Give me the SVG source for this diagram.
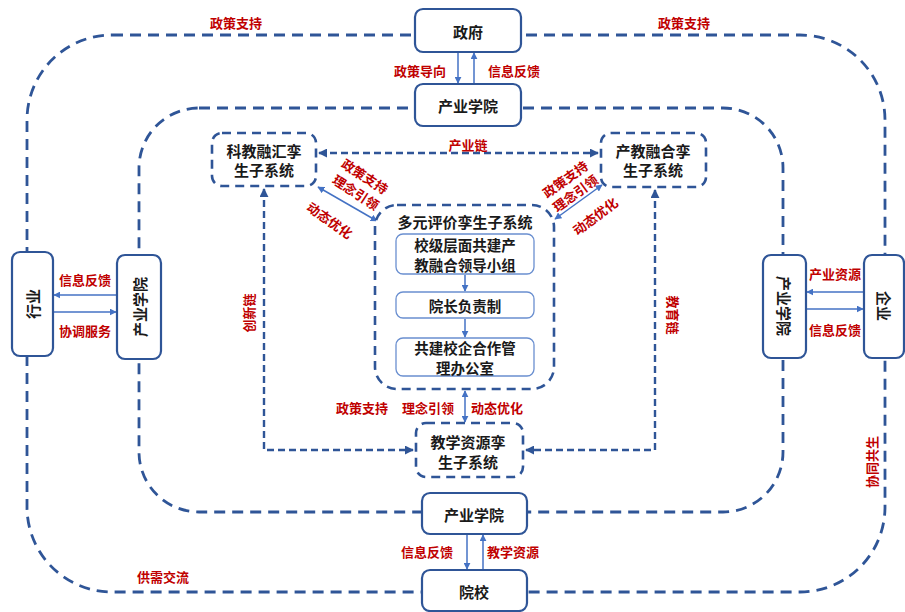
<svg xmlns="http://www.w3.org/2000/svg" width="905" height="612" viewBox="0 0 905 612">
<defs>
<marker id="ah" viewBox="0 0 10 10" refX="9" refY="5" markerWidth="9" markerHeight="9" markerUnits="userSpaceOnUse" orient="auto-start-reverse"><path d="M0,0 L10,5 L0,10 z" fill="#2F5597"/></marker>
<marker id="as" viewBox="0 0 10 10" refX="9" refY="5" markerWidth="7" markerHeight="7" markerUnits="userSpaceOnUse" orient="auto-start-reverse"><path d="M0,0 L10,5 L0,10 z" fill="#4472C4"/></marker>
<style>
.loop{fill:none;stroke:#2F5597;stroke-width:2.8;stroke-dasharray:11 7}
.chain{fill:none;stroke:#2F5597;stroke-width:2.4;stroke-dasharray:7 4}
.thin{fill:none;stroke:#4472C4;stroke-width:1.5}
.box{fill:#fff;stroke:#2F5597;stroke-width:2.2}
.sub{fill:#fff;stroke:#2F5597;stroke-width:2.6;stroke-dasharray:9 6}
.ibox{fill:#fff;stroke:#6A8FD0;stroke-width:1.3}
.t{font-family:"Noto Sans CJK SC","Liberation Sans",sans-serif;font-weight:bold;font-size:15px;fill:#1a1a1a;text-anchor:middle;dominant-baseline:central}
.ti{font-size:14.5px}
.r{font-family:"Noto Sans CJK SC","Liberation Sans",sans-serif;font-weight:bold;font-size:13px;fill:#C00000;text-anchor:middle;dominant-baseline:central}
</style>
</defs>
<rect width="905" height="612" fill="#fff"/>
<g id="connectors">
<rect class="loop" x="27" y="35" width="858" height="557" rx="85" ry="85"/>
<rect class="loop" x="139" y="108" width="644" height="404" rx="60" ry="60"/>
<line class="chain" x1="319" y1="153" x2="598" y2="153" marker-start="url(#ah)" marker-end="url(#ah)"/>
<path class="chain" d="M264,189 V450 H413" marker-start="url(#ah)" marker-end="url(#ah)"/>
<path class="chain" d="M655,190 V450 H526" marker-start="url(#ah)" marker-end="url(#ah)"/>
<line class="thin" x1="318" y1="187" x2="377" y2="221" marker-start="url(#as)" marker-end="url(#as)"/>
<line class="thin" x1="602" y1="185" x2="555" y2="219" marker-start="url(#as)" marker-end="url(#as)"/>
<line class="thin" x1="465" y1="391" x2="465" y2="422" marker-start="url(#as)" marker-end="url(#as)"/>
<line class="thin" x1="458" y1="53" x2="458" y2="83" marker-end="url(#as)"/>
<line class="thin" x1="474" y1="83" x2="474" y2="53" marker-end="url(#as)"/>
<line class="thin" x1="467" y1="535" x2="467" y2="569" marker-end="url(#as)"/>
<line class="thin" x1="483" y1="569" x2="483" y2="535" marker-end="url(#as)"/>
<line class="thin" x1="116" y1="295" x2="54" y2="295" marker-end="url(#as)"/>
<line class="thin" x1="54" y1="312" x2="116" y2="312" marker-end="url(#as)"/>
<line class="thin" x1="863" y1="292" x2="807" y2="292" marker-end="url(#as)"/>
<line class="thin" x1="807" y1="309" x2="863" y2="309" marker-end="url(#as)"/>
</g>
<g id="gov"><rect class="box" x="415" y="9" width="106" height="43" rx="8"/><text class="t" x="468" y="31">政府</text></g>
<g id="college-top"><rect class="box" x="415" y="84" width="106" height="42" rx="8"/><text class="t" x="468" y="105">产业学院</text></g>
<g id="college-bottom"><rect class="box" x="422" y="493" width="105" height="41" rx="8"/><text class="t" x="474" y="514">产业学院</text></g>
<g id="school"><rect class="box" x="422" y="570" width="105" height="41" rx="8"/><text class="t" x="474" y="591">院校</text></g>
<g id="industry"><rect class="box" x="12" y="252" width="41" height="104" rx="8"/><text class="t" transform="translate(32,304) rotate(-90)">行业</text></g>
<g id="college-left"><rect class="box" x="117" y="255" width="44" height="104" rx="8"/><text class="t" transform="translate(139,307) rotate(-90)">产业学院</text></g>
<g id="college-right"><rect class="box" x="763" y="255" width="43" height="103" rx="8"/><text class="t" transform="translate(784,306) rotate(90)">产业学院</text></g>
<g id="enterprise"><rect class="box" x="864" y="255" width="40" height="103" rx="8"/><text class="t" transform="translate(884,306) rotate(90)">企业</text></g>
<g id="sub-kejiao"><rect class="sub" x="212" y="133" width="104" height="53" rx="10"/><text class="t" x="264" y="150">科教融汇孪</text><text class="t" x="264" y="169">生子系统</text></g>
<g id="sub-chanjiao"><rect class="sub" x="601" y="133" width="105" height="54" rx="10"/><text class="t" x="653" y="150">产教融合孪</text><text class="t" x="653" y="169">生子系统</text></g>
<g id="sub-eval">
<rect class="sub" x="375" y="205" width="179" height="184" rx="22"/>
<text class="t" x="465" y="221">多元评价孪生子系统</text>
<rect class="ibox" x="396" y="234" width="138" height="40" rx="7"/>
<text class="t ti" x="465" y="244.5">校级层面共建产</text><text class="t ti" x="465" y="264">教融合领导小组</text>
<rect class="ibox" x="396" y="292" width="138" height="26" rx="7"/>
<text class="t ti" x="465" y="305">院长负责制</text>
<rect class="ibox" x="396" y="338" width="138" height="38" rx="7"/>
<text class="t ti" x="465" y="347.5">共建校企合作管</text><text class="t ti" x="465" y="367">理办公室</text>
<line class="thin" x1="465" y1="275" x2="465" y2="291" marker-end="url(#as)"/>
<line class="thin" x1="465" y1="319" x2="465" y2="337" marker-end="url(#as)"/>
</g>
<g id="sub-teach"><rect class="sub" x="416" y="423" width="107" height="54" rx="10"/><text class="t" x="468" y="441">教学资源孪</text><text class="t" x="468" y="461">生子系统</text></g>
<g id="labels">
<text class="r" x="236" y="22">政策支持</text>
<text class="r" x="684" y="22">政策支持</text>
<text class="r" x="420" y="70">政策导向</text>
<text class="r" x="514" y="70">信息反馈</text>
<text class="r" x="468" y="144">产业链</text>
<text class="r" transform="translate(365,176) rotate(33)">政策支持</text>
<text class="r" transform="translate(356,192) rotate(33)">理念引领</text>
<text class="r" transform="translate(330,220) rotate(35)">动态优化</text>
<text class="r" transform="translate(565,179) rotate(-36)">政策支持</text>
<text class="r" transform="translate(575,193) rotate(-36)">理念引领</text>
<text class="r" transform="translate(595,216) rotate(-37)">动态优化</text>
<text class="r" x="85" y="279">信息反馈</text>
<text class="r" x="85" y="330">协调服务</text>
<text class="r" x="835" y="273">产业资源</text>
<text class="r" x="835" y="329">信息反馈</text>
<text class="r" transform="translate(248,313) rotate(-90)">创新链</text>
<text class="r" transform="translate(673,315) rotate(90)">教育链</text>
<text class="r" x="362" y="407">政策支持</text>
<text class="r" x="428" y="407">理念引领</text>
<text class="r" x="497" y="407">动态优化</text>
<text class="r" transform="translate(871,462) rotate(-90)">协同共生</text>
<text class="r" x="427" y="551">信息反馈</text>
<text class="r" x="513" y="551">教学资源</text>
<text class="r" x="163" y="576">供需交流</text>
</g>
</svg>
